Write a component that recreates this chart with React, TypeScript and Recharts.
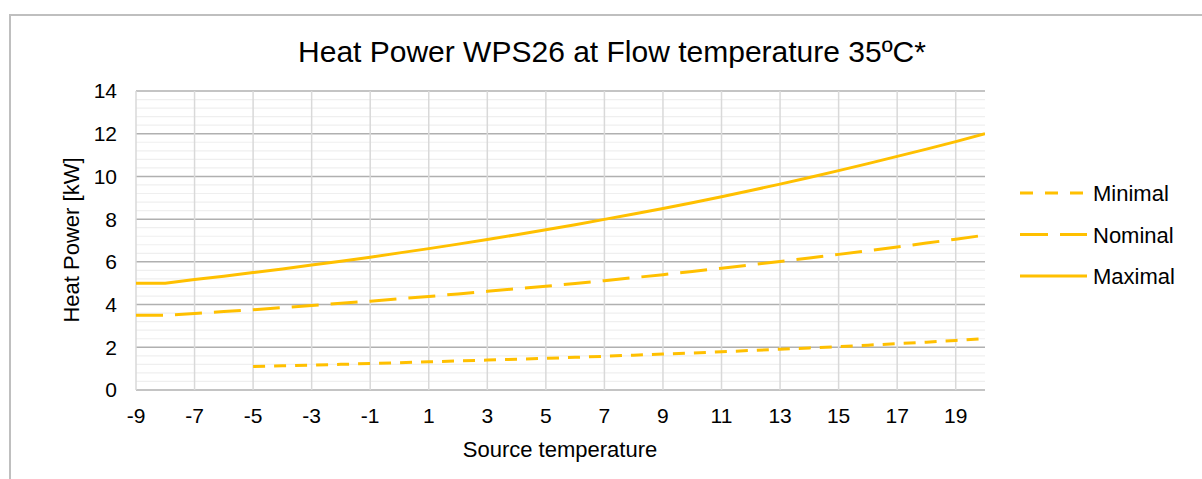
import React from 'react'
import { LineChart, Line, XAxis, YAxis, CartesianGrid, ReferenceLine } from 'recharts'

// Source temperature (°C), one point per degree
const temps = [-9, -8, -7, -6, -5, -4, -3, -2, -1, 0, 1, 2, 3, 4, 5, 6, 7, 8, 9, 10, 11, 12, 13, 14, 15, 16, 17, 18, 19, 20]

// Heat power [kW]
const minimal = [null, null, null, null, 1.1, 1.13, 1.17, 1.2, 1.24, 1.28, 1.32, 1.36, 1.4, 1.44, 1.48, 1.53, 1.58, 1.63, 1.68, 1.73, 1.79, 1.85, 1.91, 1.97, 2.03, 2.1, 2.17, 2.24, 2.32, 2.4]
const nominal = [3.5, 3.5, 3.58, 3.67, 3.76, 3.86, 3.96, 4.06, 4.16, 4.27, 4.38, 4.5, 4.62, 4.74, 4.86, 4.99, 5.12, 5.26, 5.4, 5.55, 5.7, 5.86, 6.02, 6.18, 6.35, 6.52, 6.7, 6.88, 7.06, 7.25]
const maximal = [5.0, 5.0, 5.17, 5.33, 5.5, 5.67, 5.85, 6.03, 6.22, 6.42, 6.62, 6.83, 7.05, 7.27, 7.5, 7.74, 7.99, 8.24, 8.5, 8.77, 9.05, 9.34, 9.64, 9.95, 10.27, 10.6, 10.94, 11.28, 11.63, 12.0]

const xTicks = [-9, -7, -5, -3, -1, 1, 3, 5, 7, 9, 11, 13, 15, 17, 19]
const yTicks = [0, 2, 4, 6, 8, 10, 12, 14]
const seriesNames = ['Minimal', 'Nominal', 'Maximal']

const title = 'Heat Power WPS26 at Flow temperature 35ºC*'
const xTitle = 'Source temperature'
const yTitle = 'Heat Power [kW]'

const COLOR = '#FFC000'
const dashes = ['12 9', '27 12', undefined]
const legendDashes = ['13 12', '28 12', undefined]
const keys = ['minimal', 'nominal', 'maximal']
const FONT = '"Liberation Sans", Arial, sans-serif'

// light minor gridlines every 0.4 kW (between the major 2 kW lines)
const minorTicks = Array.from({ length: 35 }, (_, i) => Math.round(i * 4) / 10).filter((v) => v % 2 !== 0)

const rows = temps.map((t, i) => ({
  t,
  minimal: minimal[i],
  nominal: nominal[i],
  maximal: maximal[i],
}))

export default function App() {
  return (
    <div
      style={{
        position: 'fixed',
        left: 0,
        top: 0,
        width: 1202,
        height: 479,
        background: '#fff',
        overflow: 'hidden',
        fontFamily: FONT,
      }}
    >
      {/* chart frame: only top + left edges are in view */}
      <div
        style={{
          position: 'absolute',
          left: 9,
          top: 14,
          width: 1300,
          height: 600,
          borderLeft: '2px solid #bfbfbf',
          borderTop: '2px solid #bfbfbf',
        }}
      />
      <div style={{ position: 'absolute', left: 0, top: 0 }}>
        <LineChart
          width={1202}
          height={479}
          data={rows}
          margin={{ top: 91, right: 217, bottom: 59, left: 0 }}
        >
          <CartesianGrid vertical={false} stroke="#b0b0b0" strokeWidth={1.5} />
          {minorTicks.map((v) => (
            <ReferenceLine key={'m' + v} y={v} stroke="#efefef" strokeWidth={1.2} />
          ))}
          {/* vertical gridlines drawn after the minor ones so they sit on top */}
          {xTicks.map((v) => (
            <ReferenceLine key={'x' + v} x={v} stroke="#d9d9d9" strokeWidth={1.5} />
          ))}
          <XAxis
            dataKey="t"
            type="number"
            domain={[-9, 20]}
            ticks={xTicks}
            height={30}
            allowDataOverflow
            axisLine={false}
            tickLine={false}
            tickSize={6}
            tickMargin={12}
            tick={{ fontSize: 21, fill: '#000', fontFamily: FONT }}
          />
          <YAxis
            width={136}
            domain={[0, 14]}
            ticks={yTicks}
            axisLine={false}
            tickLine={false}
            tickSize={6}
            tickMargin={13}
            tick={{ fontSize: 21, fill: '#000', fontFamily: FONT }}
          />
          {keys.map((k, i) => (
            <Line
              key={k}
              dataKey={k}
              name={seriesNames[i]}
              type="linear"
              stroke={COLOR}
              strokeWidth={3}
              strokeDasharray={dashes[i]}
              dot={false}
              activeDot={false}
              isAnimationActive={false}
            />
          ))}
        </LineChart>
      </div>
      {/* titles and legend */}
      <svg
        width={1202}
        height={479}
        style={{ position: 'absolute', left: 0, top: 0, pointerEvents: 'none', fontFamily: FONT }}
      >
        <text x={612} y={62} textAnchor="middle" fontSize={30} fill="#000">
          {title}
        </text>
        <text x={560} y={457} textAnchor="middle" fontSize={22} fill="#000">
          {xTitle}
        </text>
        <text transform="rotate(-90)" x={-240} y={79} textAnchor="middle" fontSize={22} fill="#000">
          {yTitle}
        </text>
        {seriesNames.map((name, i) => {
          const y = 193 + i * 41.5
          return (
            <g key={name}>
              <line x1={1020} x2={1087} y1={y} y2={y} stroke={COLOR} strokeWidth={3} strokeDasharray={legendDashes[i]} />
              <text x={1093} y={y + 8} fontSize={22} fill="#000">
                {name}
              </text>
            </g>
          )
        })}
      </svg>
    </div>
  )
}
